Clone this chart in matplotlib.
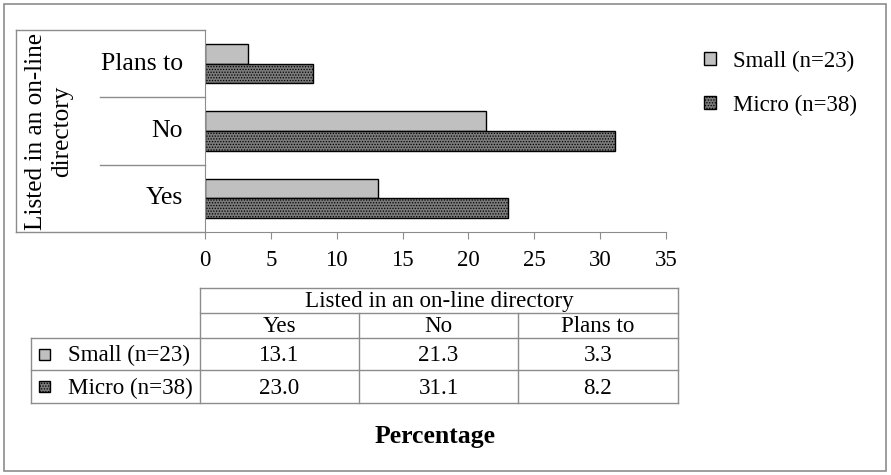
import matplotlib
matplotlib.use("Agg")
import matplotlib.pyplot as plt
from matplotlib.lines import Line2D
from matplotlib.patches import Rectangle

categories = ["Yes", "No", "Plans to"]
small = [13.1, 21.3, 3.3]
micro = [23.0, 31.1, 8.2]
series_names = ["Small (n=23)", "Micro (n=38)"]
group_title = "Listed in an on-line directory"
x_ticks = [0, 5, 10, 15, 20, 25, 30, 35]

W, H = 891, 475
plt.rcParams["font.family"] = ["Liberation Serif", "DejaVu Serif"]
plt.rcParams["hatch.linewidth"] = 0.6

fig = plt.figure(figsize=(W / 100, H / 100), dpi=100)
GRID = "#8c8c8c"


def fx(x):
    return x / W


def fy(y):
    return 1 - y / H


def line(x0, y0, x1, y1, color=GRID, lw=1.0):
    fig.add_artist(Line2D([fx(x0), fx(x1)], [fy(y0), fy(y1)],
                          transform=fig.transFigure, color=color, lw=lw))


# chart area border
fig.add_artist(Rectangle((fx(4), fy(471)), fx(882), 467 / H, transform=fig.transFigure,
                         fill=False, edgecolor=GRID, lw=1.2))

# plot area
left, right, top, bottom = 205, 666, 30, 232
ax = fig.add_axes([fx(left), fy(bottom), fx(right - left), (bottom - top) / H])
ypos = list(range(len(categories)))
bh = 0.29
small_style = dict(facecolor="#c0c0c0", edgecolor="black", linewidth=1.0)
micro_style = dict(facecolor="#7a7a7a", edgecolor="black", linewidth=1.0, hatch="......")
b1 = ax.barh([y + bh / 2 for y in ypos], small, height=bh, label=series_names[0], **small_style)
b2 = ax.barh([y - bh / 2 for y in ypos], micro, height=bh, label=series_names[1], **micro_style)
ax.set_xlim(0, 35)
ax.set_ylim(-0.5, len(categories) - 0.5)
ax.set_xticks(x_ticks)
ax.set_xticklabels([str(t) for t in x_ticks], fontsize=16.5)
ax.set_yticks([])
for s in ["top", "right"]:
    ax.spines[s].set_visible(False)
for s in ["left", "bottom"]:
    ax.spines[s].set_color(GRID)
ax.tick_params(axis="x", direction="out", length=5, color=GRID, pad=8)
ax.patch.set_alpha(0)

# multi-level category axis box
band = (bottom - top) / len(categories)
line(16, top, left, top)
line(16, top, 16, bottom)
line(16, bottom, left, bottom)
for i in range(1, len(categories)):
    yy = bottom - i * band
    line(100, yy, left, yy)
for i, cat in enumerate(categories):
    yc = bottom - (i + 0.5) * band
    fig.text(fx(183), fy(yc), cat, ha="right", va="center", fontsize=18.5)
fig.text(fx(49), fy((top + bottom) / 2), "Listed in an on-line\ndirectory", rotation=90,
         ha="center", va="center", fontsize=18.2, linespacing=1.27)

# legend
fig.legend(handles=[b1, b2], labels=series_names, loc="center left",
           bbox_to_anchor=(fx(683), fy(83)), frameon=False, fontsize=16.5,
           handlelength=0.55, handleheight=0.55, handletextpad=0.75, labelspacing=1.0)

# data table
cols = [200, 359, 518, 678]
rows = [288, 313, 338, 370, 403]
tab_left = 31
line(cols[0], rows[0], cols[-1], rows[0])
line(cols[0], rows[1], cols[-1], rows[1])
for yy in rows[2:]:
    line(tab_left, yy, cols[-1], yy)
line(tab_left, rows[2], tab_left, rows[-1])
line(cols[0], rows[0], cols[0], rows[-1])
line(cols[-1], rows[0], cols[-1], rows[-1])
for xx in cols[1:-1]:
    line(xx, rows[1], xx, rows[-1])
TS = 16.6
DY = 1.5
fig.text(fx((cols[0] + cols[-1]) / 2), fy((rows[0] + rows[1]) / 2 + DY), group_title,
         ha="center", va="center", fontsize=TS)
for j, cat in enumerate(categories):
    xc = (cols[j] + cols[j + 1]) / 2
    fig.text(fx(xc), fy((rows[1] + rows[2]) / 2 + DY), cat, ha="center", va="center", fontsize=TS)
for r, (name, vals, style) in enumerate(zip(series_names, [small, micro], [small_style, micro_style])):
    yc = (rows[2 + r] + rows[3 + r]) / 2
    fig.add_artist(Rectangle((fx(39), fy(yc + 5.5)), fx(11), 11 / H,
                             transform=fig.transFigure, **style))
    fig.text(fx(68), fy(yc + DY), name, ha="left", va="center", fontsize=TS)
    for j, v in enumerate(vals):
        xc = (cols[j] + cols[j + 1]) / 2
        fig.text(fx(xc), fy(yc + DY), f"{v:.1f}", ha="center", va="center", fontsize=TS)

fig.text(fx(435.5), fy(437), "Percentage", ha="center", va="center", fontsize=18.5,
         fontweight="bold")

fig.savefig("out.png", dpi=100)
